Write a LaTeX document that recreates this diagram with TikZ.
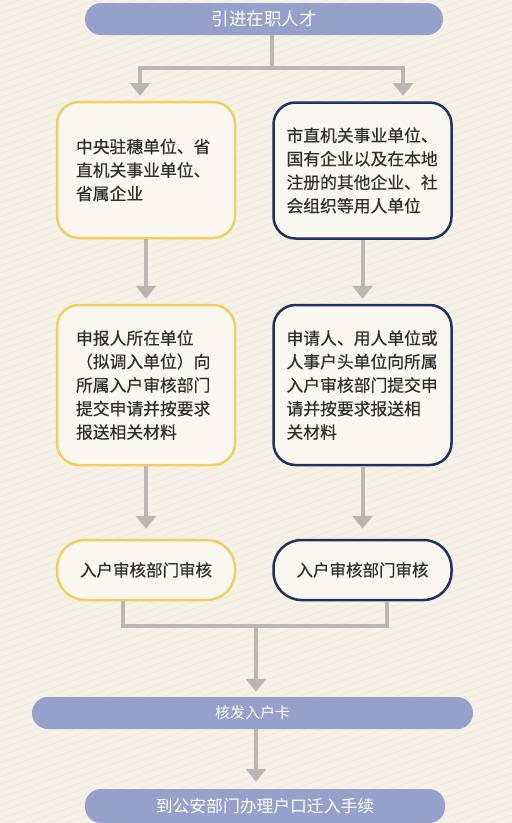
\documentclass[tikz,border=0pt]{standalone}
\usepackage{fontspec}
\setmainfont{Noto Sans CJK SC}
\newfontfamily\heavycjk{Noto Sans CJK SC}[FakeBold=0.4]
\usepackage{xcolor}
\usepackage{tikz}
\usetikzlibrary{arrows.meta,positioning}

\definecolor{bg}{RGB}{246,241,230}
\definecolor{stripe}{RGB}{239,233,220}
\definecolor{barblue}{RGB}{150,161,203}
\definecolor{gold}{RGB}{238,208,98}
\definecolor{navy}{RGB}{33,48,96}
\definecolor{boxfill}{RGB}{250,247,240}
\definecolor{flowgray}{RGB}{186,183,178}

\tikzset{
  bar/.style={fill=barblue, rounded corners=16pt, minimum height=32pt, inner sep=0pt,
    text=white, font=\fontsize{16}{20}\selectfont},
  card/.style={draw, line width=2.5pt, fill=boxfill, rounded corners=22pt,
    minimum width=178pt, text width=140pt, align=left, text=black!82,
    font=\heavycjk\fontsize{16.8}{23.5}\selectfont},
  widecard/.style={card, text width=152pt},
  pill/.style={card, rounded corners=28pt, minimum height=60pt, align=center,
    text width=150pt, font=\heavycjk\fontsize{16.5}{20}\selectfont},
  link/.style={draw=flowgray, line width=4pt},
  flow/.style={link, -{Triangle[width=20pt,length=13pt]}},
}

\begin{document}
\begin{tikzpicture}[x=1pt, y=-1pt]
  \useasboundingbox (0,0) rectangle (512,823);
  \fill[bg] (0,0) rectangle (512,823);
  \begin{scope}
    \clip (0,0) rectangle (512,823);
    \foreach \s in {0,7,...,1050} { \draw[stripe, line width=0.8pt] (0,\s) -- (512,\s-186); }
  \end{scope}

  \node[bar, minimum width=358pt, font=\fontsize{17.5}{20}\selectfont] (top) at (264,19) {引进在职人才};

  \node[card, draw=gold, minimum height=136pt] (l1) at (146,170)
    {中央驻穗单位、省\\直机关事业单位、\\省属企业};
  \node[widecard, draw=navy, minimum height=136pt] (r1) at (362.5,170.5)
    {市直机关事业单位、\\国有企业以及在本地\\注册的其他企业、社\\会组织等用人单位};

  \node[card, draw=gold, minimum height=160pt] (l2) at (146,385)
    {申报人所在单位\\（拟调入单位）向\\所属入户审核部门\\提交申请并按要求\\报送相关材料};
  \node[widecard, draw=navy, minimum height=160pt] (r2) at (362.5,385)
    {申请人、用人单位或\\人事户头单位向所属\\入户审核部门提交申\\请并按要求报送相\\关材料};

  \node[pill, draw=gold] (l3) at (146,570) {入户审核部门审核};
  \node[pill, draw=navy] (r3) at (362.5,570) {入户审核部门审核};

  \node[bar, minimum width=441pt, font=\fontsize{15}{20}\selectfont] (card) at (252.5,713) {核发入户卡};
  \node[bar, minimum width=360pt, minimum height=34pt, font=\fontsize{16.8}{20}\selectfont] (last) at (265,806) {到公安部门办理户口迁入手续};

  % split and merge points
  \coordinate (split) at (272,68);
  \coordinate (in1) at (140,96);
  \coordinate (in2) at (403,96);
  \coordinate (out1) at (123,626);
  \coordinate (out2) at (387,626);
  \coordinate (merge) at (256,626);

  \draw[link] (top.south -| split) -- (split);
  \draw[flow] (split) -| (in1);
  \draw[flow] (split) -| (in2);

  \draw[flow, shorten >=5pt] (l1) -- (l2);
  \draw[flow, shorten >=5pt] (r1) -- (r2);
  \draw[flow, shorten >=10pt] (l2) -- (l3);
  \draw[flow, shorten >=10pt] (r2) -- (r3);

  \draw[link] (l3.south -| out1) -- (out1) -- (out2) -- (r3.south -| out2);
  \draw[flow, shorten >=5pt] (merge) -- (merge |- card.north);
  \draw[flow, shorten >=7pt] (card.south -| merge) -- (merge |- last.north);
\end{tikzpicture}
\end{document}
